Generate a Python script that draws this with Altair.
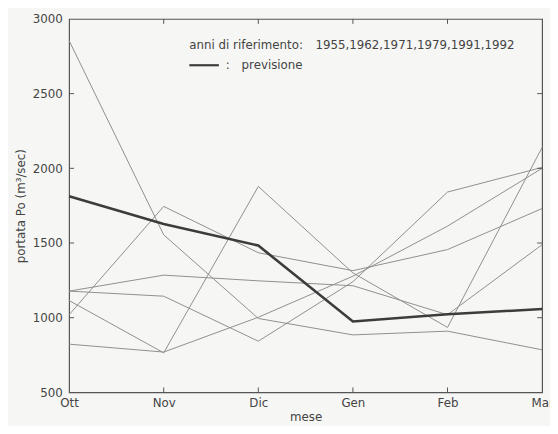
import altair as alt
import pandas as pd

# ---- data ----
mesi = ["Ott", "Nov", "Dic", "Gen", "Feb", "Mar"]
serie_a = [2855, 1555, 995, 885, 910, 785]
serie_b = [1020, 1745, 1435, 1315, 1456, 1731]
serie_c = [1178, 1285, 1247, 1214, 1020, 1489]
serie_d = [1178, 1144, 843, 1241, 1841, 2006]
serie_e = [1115, 765, 1879, 1300, 935, 2140]
serie_f = [823, 770, 1003, 1278, 1613, 2000]
previsione = [1813, 1628, 1483, 975, 1023, 1058]
y_ticks = [500, 1000, 1500, 2000, 2500, 3000]
y_inner_ticks = [1000, 1500, 2000, 2500]
x_inner_ticks = ["Nov", "Dic", "Gen", "Feb"]
legend_head = "anni di riferimento:"
legend_years = "1955,1962,1971,1979,1991,1992"
legend_line2 = "previsione"

W, H = 480, 379
FONT = "DejaVu Sans"
TXT = "#444444"
FRAME = "#555555"

rows = []
for name, vals in [("a", serie_a), ("b", serie_b), ("c", serie_c),
                   ("d", serie_d), ("e", serie_e), ("f", serie_f)]:
    for m, v in zip(mesi, vals):
        rows.append({"serie": name, "mese": m, "portata": v})
df = pd.DataFrame(rows)
df_prev = pd.DataFrame({"mese": mesi, "portata": previsione})
df_yt = pd.DataFrame({"portata": y_inner_ticks})
df_xt = pd.DataFrame({"mese": x_inner_ticks})

xscale = alt.Scale(type="point", padding=0, domain=mesi)
yscale = alt.Scale(domain=[500, 3000], nice=False, zero=False)

x_enc = alt.X("mese:N", sort=mesi, scale=xscale,
              axis=alt.Axis(title="mese", labelAngle=0, ticks=False, domain=False,
                            grid=False, labelPadding=5, titlePadding=4,
                            labelFont=FONT, labelFontSize=12, labelColor=TXT,
                            titleFont=FONT, titleFontSize=12, titleColor=TXT,
                            titleFontWeight="normal"))
y_enc = alt.Y("portata:Q", scale=yscale,
              axis=alt.Axis(title="portata Po (m³/sec)", values=y_ticks, format="d",
                            ticks=False, domain=False, grid=False, labelPadding=7,
                            titlePadding=5,
                            labelFont=FONT, labelFontSize=12, labelColor=TXT,
                            titleFont=FONT, titleFontSize=12, titleColor=TXT,
                            titleFontWeight="normal"))

lines = alt.Chart(df).mark_line(color="#8e8e8e", strokeWidth=1).encode(
    x=x_enc, y=y_enc, detail="serie:N")

prev = alt.Chart(df_prev).mark_line(color="#3c3c3c", strokeWidth=2.6).encode(
    x=alt.X("mese:N", sort=mesi, scale=xscale),
    y=alt.Y("portata:Q", scale=yscale))

yt_left = alt.Chart(df_yt).mark_rule(color=FRAME, strokeWidth=1).encode(
    y=alt.Y("portata:Q", scale=yscale), x=alt.value(0), x2=alt.value(5))
yt_right = alt.Chart(df_yt).mark_rule(color=FRAME, strokeWidth=1).encode(
    y=alt.Y("portata:Q", scale=yscale), x=alt.value(W - 5), x2=alt.value(W))
xt_bottom = alt.Chart(df_xt).mark_rule(color=FRAME, strokeWidth=1).encode(
    x=alt.X("mese:N", sort=mesi, scale=xscale), y=alt.value(H), y2=alt.value(H - 5))
xt_top = alt.Chart(df_xt).mark_rule(color=FRAME, strokeWidth=1).encode(
    x=alt.X("mese:N", sort=mesi, scale=xscale), y=alt.value(0), y2=alt.value(5))

def label(text, x, y):
    return alt.Chart(pd.DataFrame({"t": [text]})).mark_text(
        align="left", baseline="middle", font=FONT, fontSize=12, color=TXT
    ).encode(text="t:N", x=alt.value(x), y=alt.value(y))

leg_head = label(legend_head, 122, 27)
leg_years = label(legend_years, 250, 27)
leg_rule = alt.Chart(pd.DataFrame({"t": [legend_line2]})).mark_rule(
    color="#3c3c3c", strokeWidth=2.2
).encode(x=alt.value(122), x2=alt.value(152), y=alt.value(47))
leg_colon = label(":", 159, 47)
leg2 = label(legend_line2, 175, 47)

chart = alt.layer(
    lines, prev, yt_left, yt_right, xt_bottom, xt_top,
    leg_head, leg_years, leg_rule, leg_colon, leg2
).properties(
    width=W, height=H,
    autosize=alt.AutoSizeParams(type="none"),
    padding={"left": 62, "top": 8, "right": 8, "bottom": 31},
    background="#f6f6f4",
).configure_view(stroke=FRAME, strokeWidth=1.2)

chart.save("out.html", embed_options={"renderer": "svg", "actions": False})
